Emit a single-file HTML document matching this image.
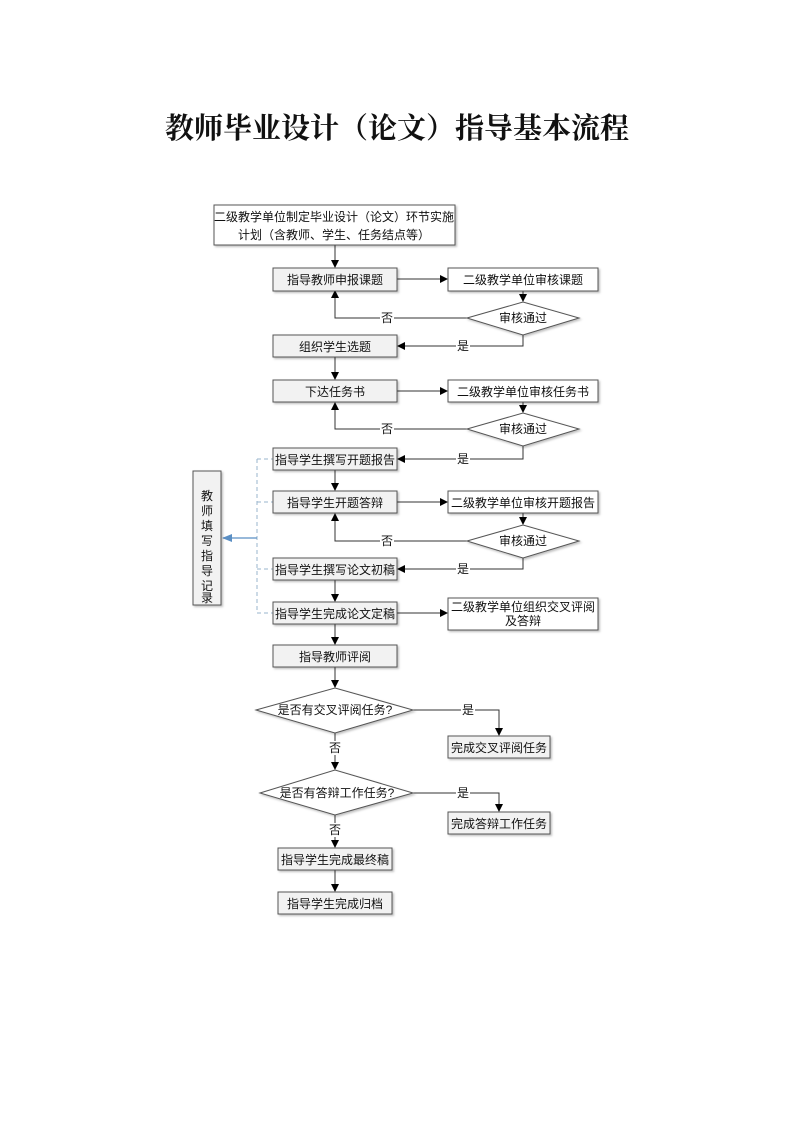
<!DOCTYPE html>
<html><head><meta charset="utf-8"><style>
html,body{margin:0;padding:0;background:#fff;}
svg{display:block;}
text{font-family:"Liberation Sans","Noto Sans CJK SC",sans-serif;font-size:12px;fill:#111;}
.t{font-family:"Liberation Serif","Noto Serif CJK SC",serif;font-size:29px;font-weight:bold;}
.g{fill:#f2f2f2;stroke:#555;stroke-width:1;}
.w{fill:#fff;stroke:#555;stroke-width:1;}
.l{stroke:#333;stroke-width:1;fill:none;}
.d{stroke:#9ab4cc;stroke-width:1;stroke-dasharray:4,3;fill:none;}
</style></head><body>
<svg width="793" height="1122" viewBox="0 0 793 1122" xmlns="http://www.w3.org/2000/svg">
<defs>
<marker id="a" markerWidth="8" markerHeight="8" refX="7" refY="4" orient="auto" markerUnits="userSpaceOnUse"><path d="M0,0 L8,4 L0,8 z" fill="#000"/></marker>
<marker id="b" markerWidth="10" markerHeight="8" refX="9" refY="4" orient="auto" markerUnits="userSpaceOnUse"><path d="M0,0 L10,4 L0,8 z" fill="#5b8fc4"/></marker>
<filter id="s" x="-5%" y="-5%" width="115%" height="130%"><feDropShadow dx="1.5" dy="1.5" stdDeviation="1" flood-color="#000" flood-opacity="0.25"/></filter>
</defs>
<text class="t" x="397" y="138" text-anchor="middle">教师毕业设计（论文）指导基本流程</text>

<g class="l">
<line x1="335" y1="245" x2="335" y2="267" marker-end="url(#a)"/>
<line x1="397" y1="279" x2="447" y2="279" marker-end="url(#a)"/>
<line x1="523" y1="291" x2="523" y2="301" marker-end="url(#a)"/>
<polyline points="467,318 335,318 335,291" marker-end="url(#a)"/>
<polyline points="523,335 523,346 398,346" marker-end="url(#a)"/>
<line x1="335" y1="357" x2="335" y2="379" marker-end="url(#a)"/>
<line x1="397" y1="391" x2="447" y2="391" marker-end="url(#a)"/>
<line x1="523" y1="402" x2="523" y2="412" marker-end="url(#a)"/>
<polyline points="467,429 335,429 335,403" marker-end="url(#a)"/>
<polyline points="523,446 523,459 398,459" marker-end="url(#a)"/>
<line x1="335" y1="470" x2="335" y2="490" marker-end="url(#a)"/>
<line x1="397" y1="502" x2="447" y2="502" marker-end="url(#a)"/>
<line x1="523" y1="513" x2="523" y2="524" marker-end="url(#a)"/>
<polyline points="467,541 335,541 335,514" marker-end="url(#a)"/>
<polyline points="523,558 523,569 398,569" marker-end="url(#a)"/>
<line x1="335" y1="580" x2="335" y2="601" marker-end="url(#a)"/>
<line x1="397" y1="613" x2="447" y2="613" marker-end="url(#a)"/>
<line x1="335" y1="624" x2="335" y2="644" marker-end="url(#a)"/>
<line x1="335" y1="667" x2="335" y2="687" marker-end="url(#a)"/>
<polyline points="413,710 499,710 499,735" marker-end="url(#a)"/>
<line x1="335" y1="733" x2="335" y2="769" marker-end="url(#a)"/>
<polyline points="413,793 499,793 499,811" marker-end="url(#a)"/>
<line x1="335" y1="815" x2="335" y2="847" marker-end="url(#a)"/>
<line x1="335" y1="870" x2="335" y2="891" marker-end="url(#a)"/>
</g>
<g class="d">
<line x1="257" y1="459" x2="257" y2="613"/>
<line x1="257" y1="459" x2="273" y2="459"/>
<line x1="257" y1="502" x2="273" y2="502"/>
<line x1="257" y1="569" x2="273" y2="569"/>
<line x1="257" y1="613" x2="273" y2="613"/>
</g>
<line x1="257" y1="538" x2="223" y2="538" stroke="#5b8fc4" stroke-width="1.2" marker-end="url(#b)"/>

<g fill="#fff">
<rect x="380" y="311" width="14" height="14"/><rect x="456" y="339" width="14" height="14"/>
<rect x="380" y="422" width="14" height="14"/><rect x="456" y="452" width="14" height="14"/>
<rect x="380" y="534" width="14" height="14"/><rect x="456" y="562" width="14" height="14"/>
<rect x="461" y="703" width="14" height="14"/><rect x="328" y="741" width="14" height="14"/>
<rect x="456" y="786" width="14" height="14"/><rect x="328" y="823" width="14" height="14"/>
</g>
<text x="387" y="322" text-anchor="middle">否</text><text x="463" y="350" text-anchor="middle">是</text>
<text x="387" y="433" text-anchor="middle">否</text><text x="463" y="463" text-anchor="middle">是</text>
<text x="387" y="545" text-anchor="middle">否</text><text x="463" y="573" text-anchor="middle">是</text>
<text x="468" y="714" text-anchor="middle">是</text><text x="335" y="752" text-anchor="middle">否</text>
<text x="463" y="797" text-anchor="middle">是</text><text x="335" y="834" text-anchor="middle">否</text>

<g filter="url(#s)">
<rect class="w" x="214" y="205" width="241" height="40"/>
<rect class="g" x="273" y="268" width="124" height="23"/>
<rect class="w" x="448" y="268" width="150" height="23"/>
<polygon class="w" points="467,318 523,302 579,318 523,335"/>
<rect class="g" x="273" y="335" width="124" height="22"/>
<rect class="g" x="273" y="380" width="124" height="22"/>
<rect class="w" x="448" y="380" width="150" height="22"/>
<polygon class="w" points="467,429 523,413 579,429 523,446"/>
<rect class="g" x="273" y="448" width="124" height="22"/>
<rect class="g" x="273" y="491" width="124" height="22"/>
<rect class="w" x="448" y="491" width="150" height="22"/>
<polygon class="w" points="467,541 523,525 579,541 523,558"/>
<rect class="g" x="273" y="558" width="124" height="22"/>
<rect class="g" x="273" y="602" width="124" height="22"/>
<rect class="w" x="448" y="598" width="150" height="32"/>
<rect class="g" x="273" y="645" width="124" height="22"/>
<polygon class="w" points="256,710 335,688 413,710 335,733"/>
<rect class="g" x="448" y="736" width="102" height="22"/>
<polygon class="w" points="260,793 335,770 413,793 335,815"/>
<rect class="g" x="448" y="812" width="102" height="22"/>
<rect class="g" x="278" y="848" width="114" height="22"/>
<rect class="g" x="278" y="892" width="114" height="22"/>
<rect class="g" x="193" y="471" width="28" height="134"/>
</g>

<g text-anchor="middle">
<text x="334" y="221">二级教学单位制定毕业设计（论文）环节实施</text>
<text x="334" y="239">计划（含教师、学生、任务结点等）</text>
<text x="335" y="284">指导教师申报课题</text>
<text x="523" y="284">二级教学单位审核课题</text>
<text x="523" y="322">审核通过</text>
<text x="335" y="351">组织学生选题</text>
<text x="335" y="396">下达任务书</text>
<text x="523" y="396">二级教学单位审核任务书</text>
<text x="523" y="433">审核通过</text>
<text x="335" y="464">指导学生撰写开题报告</text>
<text x="335" y="507">指导学生开题答辩</text>
<text x="523" y="507">二级教学单位审核开题报告</text>
<text x="523" y="545">审核通过</text>
<text x="335" y="574">指导学生撰写论文初稿</text>
<text x="335" y="618">指导学生完成论文定稿</text>
<text x="523" y="611">二级教学单位组织交叉评阅</text>
<text x="523" y="625">及答辩</text>
<text x="335" y="661">指导教师评阅</text>
<text x="335" y="714">是否有交叉评阅任务?</text>
<text x="499" y="752">完成交叉评阅任务</text>
<text x="337" y="797">是否有答辩工作任务?</text>
<text x="499" y="828">完成答辩工作任务</text>
<text x="335" y="864">指导学生完成最终稿</text>
<text x="335" y="908">指导学生完成归档</text>
<text x="207" y="500">教</text><text x="207" y="515">师</text><text x="207" y="530">填</text><text x="207" y="545">写</text>
<text x="207" y="560">指</text><text x="207" y="575">导</text><text x="207" y="590">记</text><text x="207" y="605" dy="-3">录</text>
</g>
</svg>
</body></html>
